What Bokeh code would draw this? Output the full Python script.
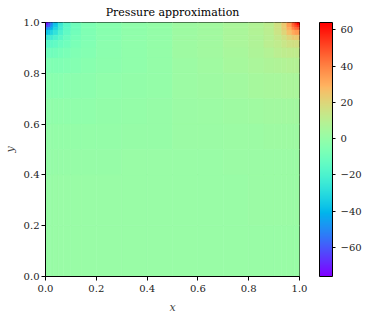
import numpy as np
from bokeh.plotting import figure
from bokeh.models import (ColumnDataSource, LinearColorMapper, ColorBar, FixedTicker,
                          CustomJSTickFormatter)
from bokeh.embed import file_html
from bokeh.resources import INLINE

# cell edges (non-uniform, refined near the lid corners)
x_edges = [0.0, 0.01, 0.02, 0.03, 0.05, 0.07, 0.10, 0.14, 0.20, 0.30, 0.40, 0.50,
           0.60, 0.70, 0.80, 0.86, 0.90, 0.93, 0.95, 0.97, 0.98, 0.99, 1.0]
y_edges = [1.0, 0.99, 0.98, 0.97, 0.95, 0.93, 0.90, 0.86, 0.80, 0.70, 0.60, 0.50, 0.40, 0.20, 0.0]

# pressure values, rows from top (y=1) to bottom, columns from x=0 to x=1
pressure_rows = [
    [-74, -63, -51, -37, -25, -16, -10, -6, -3.5, -1.5, -0.5, 2.5, 3.7, 5.6, 8, 10.5, 16, 24, 35, 47, 55, 63],
    [-63, -59, -47, -35, -24, -16, -10, -6, -3.5, -1.5, -0.5, 2.5, 3.7, 5.6, 8, 10.5, 16, 23.5, 34, 44, 50, 55],
    [-51, -47, -41, -32, -23, -15, -10, -6, -3.5, -1.5, -0.5, 2.5, 3.7, 5.6, 8, 10.3, 15.5, 22.5, 31, 39, 44, 47],
    [-37, -35, -32, -27, -20, -14, -9.5, -6, -3.5, -1.5, -0.5, 2.5, 3.7, 5.6, 7.8, 10, 14.5, 20, 26, 31, 34, 35],
    [-25, -24, -23, -20, -16, -12, -8.5, -5.5, -3.4, -1.5, -0.5, 2.5, 3.7, 5.5, 7.6, 9.8, 13, 16, 20, 22.5, 23.5, 24],
    [-16, -16, -15, -14, -12, -10, -7.5, -5, -3.2, -1.5, -0.5, 2.5, 3.6, 5.5, 7.5, 10, 12, 14, 15.5, 16, 16.5, 16.5],
    [-10, -10, -10, -9.5, -8.5, -7.5, -6, -4.5, -3, -1.4, -0.5, 2.4, 3.5, 5, 6.8, 8.5, 10, 11, 11.5, 11.8, 12, 12],
    [-6, -6, -6, -6, -5.5, -5, -4.5, -3.8, -2.4, -1.2, -0.3, 2.2, 3.2, 4.5, 6, 7, 7.6, 8, 8.3, 8.5, 8.5, 8.5],
    [-3.5, -3.5, -3.5, -3.5, -3.4, -3.2, -3, -2.4, -1.5, -0.8, -0.2, 2, 2.7, 3.7, 4.5, 5, 5.4, 5.6, 5.7, 5.8, 5.8, 5.8],
    [-1.5, -1.5, -1.5, -1.5, -1.5, -1.5, -1.4, -1.2, -0.8, -0.3, 0.1, 1.6, 2.1, 2.7, 3.2, 3.5, 3.7, 3.8, 3.8, 3.8, 3.8, 3.8],
    [-0.5, -0.5, -0.5, -0.5, -0.5, -0.5, -0.5, -0.3, -0.2, 0.1, 0.3, 1.3, 1.6, 1.9, 2.2, 2.4, 2.5, 2.5, 2.5, 2.5, 2.5, 2.5],
    [0.2, 0.2, 0.2, 0.2, 0.2, 0.2, 0.3, 0.3, 0.4, 0.6, 0.8, 0.9, 1.0, 1.2, 1.4, 1.5, 1.5, 1.6, 1.6, 1.6, 1.6, 1.6],
    [0.7, 0.7, 0.7, 0.7, 0.7, 0.7, 0.7, 0.7, 0.8, 0.8, 0.9, 1.0, 1.0, 1.1, 1.2, 1.2, 1.2, 1.2, 1.2, 1.2, 1.2, 1.2],
    [1.0, 1.0, 1.0, 1.0, 1.0, 1.0, 1.0, 1.0, 1.0, 1.0, 1.0, 1.0, 1.0, 1.0, 1.0, 1.0, 1.0, 1.0, 1.0, 1.0, 1.0, 1.0],
]

p_min, p_max = -76, 64
cbar_ticks = [-60, -40, -20, 0, 20, 40, 60]
axis_ticks = [0.0, 0.2, 0.4, 0.6, 0.8, 1.0]

# matplotlib "rainbow" colormap
t = np.linspace(0, 1, 256)
r = np.clip(np.abs(2 * t - 0.5), 0, 1)
g = np.clip(np.sin(np.pi * t), 0, 1)
b = np.clip(np.cos(np.pi * t / 2), 0, 1)
palette = ["#%02x%02x%02x" % (int(round(rr * 255)), int(round(gg * 255)), int(round(bb * 255)))
           for rr, gg, bb in zip(r, g, b)]
mapper = LinearColorMapper(palette=palette, low=p_min, high=p_max)

left, right, top, bottom, val = [], [], [], [], []
for i, row in enumerate(pressure_rows):
    for j, v in enumerate(row):
        left.append(x_edges[j]); right.append(x_edges[j + 1])
        top.append(y_edges[i]); bottom.append(y_edges[i + 1])
        val.append(v)
src = ColumnDataSource(dict(left=left, right=right, top=top, bottom=bottom, p=val))

FONT = "DejaVu Serif"
p = figure(frame_width=254, frame_height=254, x_range=(0, 1), y_range=(0, 1),
           output_backend="svg", toolbar_location=None,
           min_border_left=0, min_border_top=0, min_border_bottom=0, min_border_right=60,
           title="Pressure approximation")
p.quad(left="left", right="right", top="top", bottom="bottom", source=src,
       fill_color={"field": "p", "transform": mapper},
       line_color={"field": "p", "transform": mapper}, line_width=0.6)

p.grid.visible = False
p.outline_line_color = "black"
p.outline_line_width = 1
p.outline_line_alpha = 1
p.background_fill_color = "white"

p.title.text_font = FONT
p.title.text_font_size = "11px"
p.title.text_font_style = "normal"
p.title.align = "center"
p.title.text_color = "black"
p.title.standoff = 7
p.title.offset = 0

tick_fmt = CustomJSTickFormatter(code="return tick.toFixed(1);")
for ax in (p.xaxis[0], p.yaxis[0]):
    ax.ticker = FixedTicker(ticks=axis_ticks)
    ax.formatter = tick_fmt
    ax.major_label_text_font = FONT
    ax.major_label_text_font_size = "10px"
    ax.major_label_text_color = "#222222"
    ax.axis_label_text_font = FONT
    ax.axis_label_text_font_size = "11px"
    ax.axis_label_text_font_style = "italic"
    ax.major_tick_in = 0
    ax.major_tick_out = 4
    ax.minor_tick_line_color = None
    ax.axis_line_color = "black"
    ax.major_tick_line_color = "black"
p.xaxis.axis_label = "x"
p.yaxis.axis_label = "y"
p.xaxis.axis_label_standoff = 6
p.yaxis.axis_label_standoff = 4
p.xaxis.major_label_standoff = 4
p.yaxis.major_label_standoff = 2

cb = ColorBar(color_mapper=mapper, width=13, height=254, padding=0, margin=0,
              location=(20, 0),
              ticker=FixedTicker(ticks=cbar_ticks),
              formatter=CustomJSTickFormatter(code="return tick < 0 ? '\u2212' + Math.abs(tick) : String(tick);"),
              major_label_text_font=FONT, major_label_text_font_size="10px",
              major_label_text_color="#222222",
              major_tick_in=0, major_tick_out=3, major_tick_line_color="black",
              minor_tick_line_color=None,
              bar_line_color="black", bar_line_width=1,
              background_fill_color=None, border_line_color=None)
p.add_layout(cb, "right")

open("out.html", "w").write(file_html(p, INLINE))
